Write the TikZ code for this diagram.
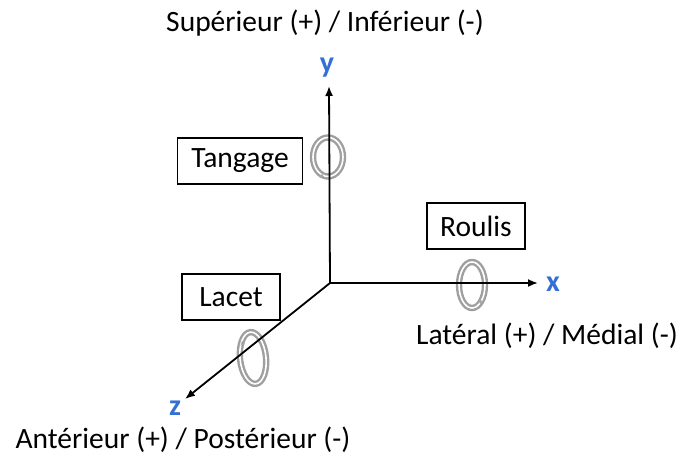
\documentclass[tikz,border=0pt]{standalone}
\usepackage{fontspec}
\setmainfont{Carlito}
\usetikzlibrary{arrows.meta}
\definecolor{axblue}{RGB}{52,112,210}
\begin{document}
\begin{tikzpicture}[x=1pt,y=-1pt,
  lbl/.style={font=\fontsize{29.5}{32}\selectfont, inner sep=0pt},
  axlbl/.style={font=\fontsize{30}{32}\selectfont\bfseries, text=axblue, inner sep=0pt},
  lbox/.style={draw, line width=1.2pt, font=\fontsize{29.5}{32}\selectfont, minimum height=46pt, inner xsep=6pt},
  axis/.style={line width=1.8pt, -{Latex[length=10pt,width=8pt]}},
  ring/.style={draw=gray!75, line width=2.4pt, double=white, double distance=1.6pt},
  ringtip/.style={gray!70, -{Stealth[length=4pt,width=5pt]}, line width=1pt}]
\useasboundingbox (0,0) rectangle (682,463);
\coordinate (O) at (330,283);
\coordinate (Y) at (329,86);
\coordinate (X) at (538,283);
\coordinate (Z) at (185,399);
% rings
\draw[ring] (328,157) ellipse (15pt and 19.5pt);
\draw[ring] (472,285) ellipse (13pt and 23pt);
\draw[ring,rotate around={6:(253,358)}] (253,358) ellipse (13pt and 26pt);
% axes
\draw[axis] (O) -- (Y);
\draw[axis] (O) -- (X);
\draw[axis] (O) -- (Z);
% small arrow marks on rings
\draw[ringtip] (320,175) -- (324,177);
\draw[ringtip] (481,300) -- (480,304);
\draw[ringtip] (243,345) -- (242,341);
% axis labels
\node[axlbl] (ly) at (327,68) {y};
\node[axlbl] (lx) at (553,284) {x};
\node[axlbl] (lz) at (175,408) {z};
% direction labels
\node[lbl] (sup) at (325,23) {Supérieur (+) / Inférieur (-)};
\node[lbl] (lat) at (547,336) {Latéral (+) / Médial (-)};
\node[lbl] (ant) at (183,440) {Antérieur (+) / Postérieur (-)};
% boxes
\node[lbox, minimum width=125pt] (tang) at (240,161) {Tangage};
\node[lbox, minimum width=98pt] (roul) at (476,226) {Roulis};
\node[lbox, minimum width=98pt] (lac) at (231,297) {Lacet};
\end{tikzpicture}
\end{document}
